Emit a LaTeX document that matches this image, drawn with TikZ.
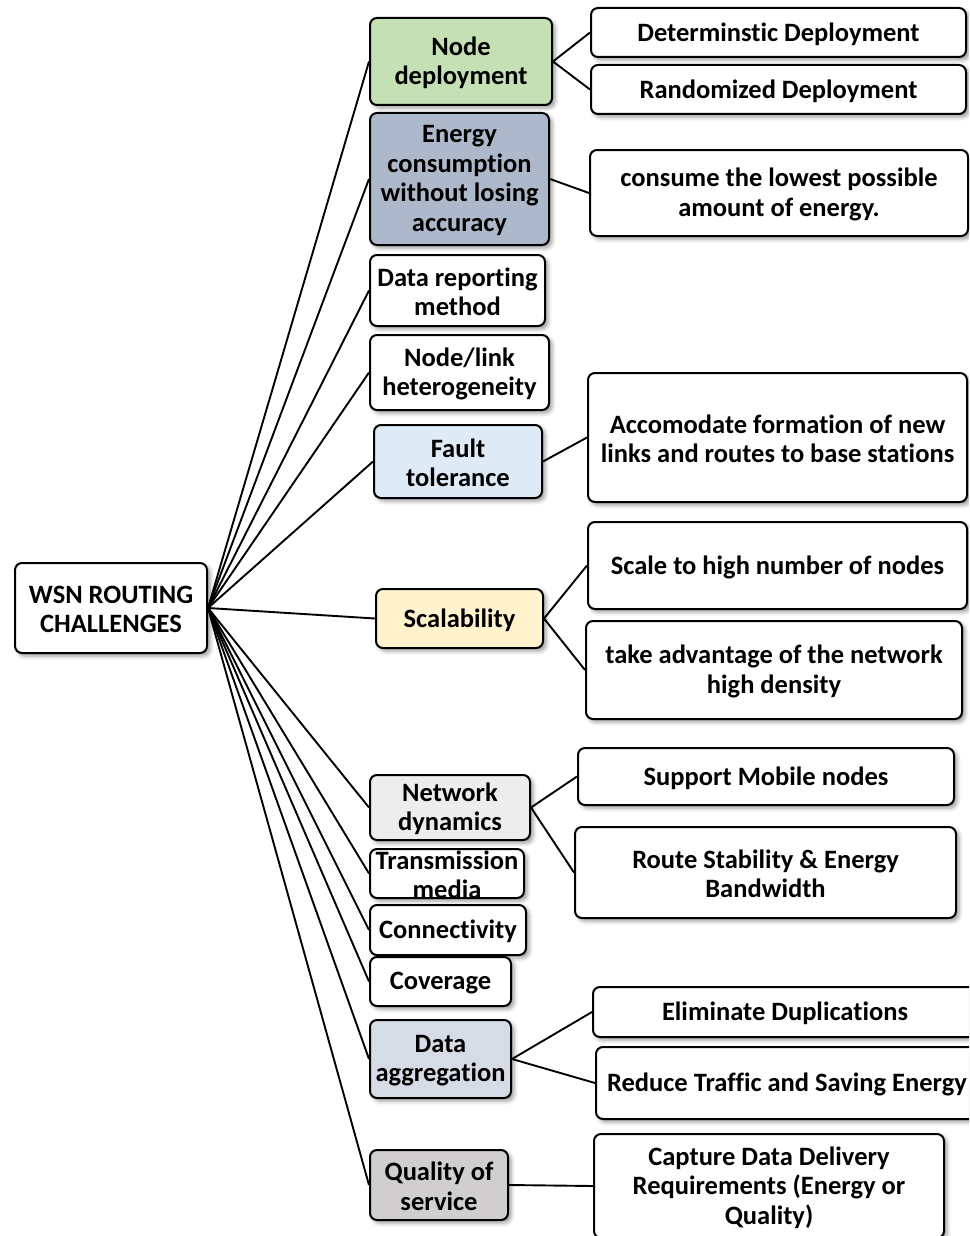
\documentclass[tikz,border=0pt]{standalone}
\usepackage{fontspec}
\setmainfont{Carlito}[Ligatures=NoCommon]
\usetikzlibrary{shadows.blur}

\definecolor{cGreen}{HTML}{C5E0B4}
\definecolor{cSlate}{HTML}{ADB9CA}
\definecolor{cSky}{HTML}{DEEBF7}
\definecolor{cCream}{HTML}{FFF2CC}
\definecolor{cMist}{HTML}{EDEDED}
\definecolor{cSteel}{HTML}{D6DCE5}
\definecolor{cStone}{HTML}{D0CECE}

\tikzset{
  box/.style={draw=black, line width=2pt, rounded corners=7pt, inner sep=0pt,
    blur shadow={shadow xshift=3pt, shadow yshift=-3pt, shadow blur radius=4pt, shadow opacity=40}},
  lbl/.style={font=\fontsize{26.5}{29.5}\selectfont\bfseries, align=center, inner sep=0pt, yshift=-1.5pt},
  link/.style={line width=1.9pt, black},
}

% \bx{name}{x}{y}{width}{height}{fill}{text}
\newcommand\bx[7]{%
  \node[box, fill=#6, minimum width=#4pt, minimum height=#5pt] (#1) at (#2,#3) {};
  \node[lbl] (#1-t) at (#1.center) {#7};}

\begin{document}
\begin{tikzpicture}[x=1pt, y=-1pt]
  \path[use as bounding box] (0,0) rectangle (969,1236);
  \clip (0,0) rectangle (969,1236);

  % root
  \bx{root}{111}{608}{192}{90}{white}{WSN ROUTING\\CHALLENGES}

  % challenges
  \bx{nd}{461}{61.5}{182}{87}{cGreen}{Node\\deployment}
  \bx{en}{459.5}{179}{179}{132}{cSlate}{Energy\\consumption\\without losing\\accuracy}
  \bx{dr}{457.5}{290.5}{175}{71}{white}{Data reporting\\method}
  \bx{nh}{459.5}{372.5}{179}{75}{white}{Node/link\\heterogeneity}
  \bx{ft}{458}{461.5}{168}{73}{cSky}{Fault\\tolerance}
  \bx{sc}{459.5}{618.5}{167}{59}{cCream}{Scalability}
  \bx{nw}{450}{807.5}{160}{65}{cMist}{Network\\dynamics}
  \bx{tm}{447}{873.5}{154}{49}{white}{Transmission\\media}
  \bx{cn}{448}{930}{156}{50}{white}{Connectivity}
  \bx{cv}{440.5}{981.5}{141}{49}{white}{Coverage}
  \bx{da}{440.5}{1059}{141}{78}{cSteel}{Data\\aggregation}
  \bx{qs}{439}{1185}{138}{70}{cStone}{Quality of\\service}

  % details
  \bx{dA}{778.5}{32.5}{375}{49}{white}{Determinstic Deployment}
  \bx{dB}{778.5}{89.5}{375}{49}{white}{Randomized Deployment}
  \bx{eA}{779}{193}{378}{86}{white}{consume the lowest possible\\amount of energy.}
  \bx{fA}{777.5}{437.5}{379}{129}{white}{Accomodate formation of new\\links and routes to base stations}
  \bx{sA}{777.5}{565.5}{379}{87}{white}{Scale to high number of nodes}
  \bx{sB}{774}{670}{376}{98}{white}{take advantage of the network\\high density}
  \bx{nA}{766}{776.5}{376}{57}{white}{Support Mobile nodes}
  \bx{nB}{765.5}{872.5}{381}{91}{white}{Route Stability \& Energy\\Bandwidth}
  \bx{aA}{785}{1012}{384}{50}{white}{Eliminate Duplications}
  \bx{aB}{787}{1083}{382}{72}{white}{Reduce Traffic and Saving Energy}
  \bx{qA}{769}{1186}{350}{104}{white}{Capture Data Delivery\\Requirements (Energy or\\Quality)}

  % fan from the root
  \foreach \n in {nd,en,dr,nh,ft,sc,nw,tm,cn,cv,da,qs}
    \draw[link] (root.east) -- (\n.west);

  % challenge to detail
  \draw[link] (nd.east) -- (dA.west);
  \draw[link] (nd.east) -- (dB.west);
  \draw[link] (en.east) -- (eA.west);
  \draw[link] (ft.east) -- (fA.west);
  \draw[link] (sc.east) -- (sA.west);
  \draw[link] (sc.east) -- (sB.west);
  \draw[link] (nw.east) -- (nA.west);
  \draw[link] (nw.east) -- (nB.west);
  \draw[link] (da.east) -- (aA.west);
  \draw[link] (da.east) -- (aB.west);
  \draw[link] (qs.east) -- (qA.west);
\end{tikzpicture}
\end{document}
